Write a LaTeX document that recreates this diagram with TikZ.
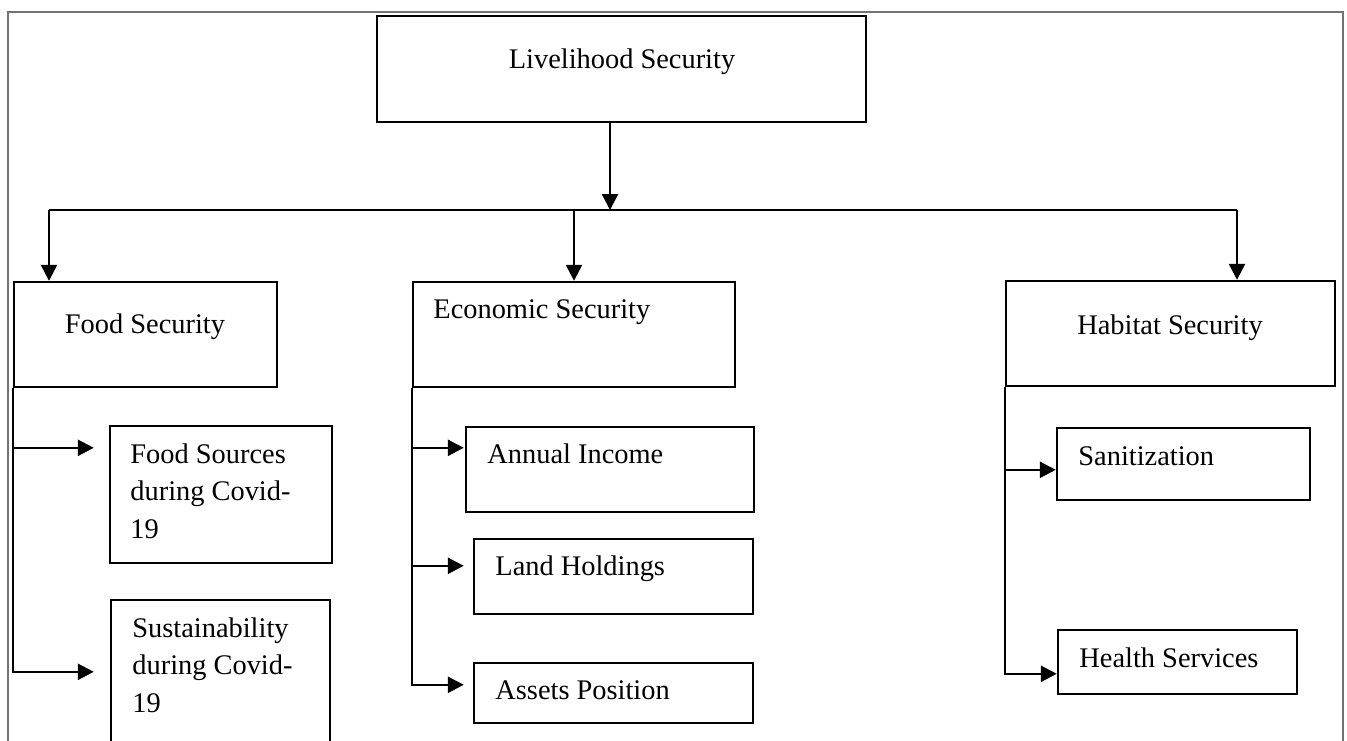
\documentclass[tikz,border=0pt]{standalone}
\usepackage{fontspec}
\setmainfont{Liberation Serif}
\usetikzlibrary{arrows.meta}

\tikzset{
  box/.style={draw, line width=1.2pt, rectangle, inner sep=0pt},
  lbl/.style={inner sep=0pt, align=left, font=\fontsize{14.2pt}{18.75pt}\selectfont},
  line/.style={line width=1.2pt},
  arr/.style={line width=1.2pt, -{Triangle[width=8pt,length=8pt]}},
  frame/.style={line width=1.1pt, draw=black!55}
}

\begin{document}
\begin{tikzpicture}[x=0.5pt, y=-0.5pt]
  \useasboundingbox (0,0) rectangle (1347,740);
  \clip (0,0) rectangle (1347,740);
  \draw [frame] (8,760) -- (8,12) -- (1343,12) -- (1343,760);

  \node [box, minimum width=244.5pt, minimum height=53pt] (live) at (621.5,69) {};
  \node [box, minimum width=131.5pt, minimum height=52.5pt] (fsec) at (145.5,334.5) {};
  \node [box, minimum width=161pt, minimum height=52.5pt] (esec) at (574,334.5) {};
  \node [box, minimum width=164.5pt, minimum height=52.5pt] (hsec) at (1170.5,333.5) {};
  \node [box, minimum width=111pt, minimum height=68.5pt] (fsrc) at (221,494.5) {};
  \node [box, minimum width=109.5pt, minimum height=90pt] (fsus) at (220.5,690) {};
  \node [box, minimum width=144pt, minimum height=42.5pt] (ainc) at (610,469.5) {};
  \node [box, minimum width=139.5pt, minimum height=37.5pt] (land) at (613.5,576.5) {};
  \node [box, minimum width=139.5pt, minimum height=30pt] (asst) at (613.5,693) {};
  \node [box, minimum width=126.5pt, minimum height=36pt] (sani) at (1183.5,464) {};
  \node [box, minimum width=119.5pt, minimum height=32pt] (hlth) at (1177.5,662) {};

  \node [lbl, anchor=base] (tlive) at (622,68) {Livelihood Security};
  \node [lbl, anchor=base] (tfsec) at (145,333) {Food Security};
  \node [lbl, anchor=base west] (tesec) at (433,318) {Economic Security};
  \node [lbl, anchor=base] (thsec) at (1170,334) {Habitat Security};
  \node [lbl, anchor=base west] (tfsrc) at (130,538) {Food Sources\\during Covid-\\19};
  \node [lbl, anchor=base west] (tfsus) at (132,712) {Sustainability\\during Covid-\\19};
  \node [lbl, anchor=base west] (tainc) at (487,463) {Annual Income};
  \node [lbl, anchor=base west] (tland) at (495,575) {Land Holdings};
  \node [lbl, anchor=base west] (tasst) at (495,699) {Assets Position};
  \node [lbl, anchor=base west] (tsani) at (1078,465) {Sanitization};
  \node [lbl, anchor=base west] (thlth) at (1079,667) {Health Services};

  \coordinate (barL) at (49,210);
  \coordinate (barR) at (1237,210);
  \draw [line] (barL) -- (barR);
  \draw [arr] ([xshift=-5.75pt]live.south) -- ([xshift=-5.75pt]live.south |- barL);
  \draw [arr] (barL) -- (barL |- fsec.north);
  \draw [arr] (esec.north |- barL) -- (esec.north);
  \draw [arr] (barR) -- (barR |- hsec.north);

  \draw [arr] (fsec.south west) |- ([shift={(-15,23)}]fsrc.north west);
  \draw [arr] (fsec.south west) |- ([shift={(-16,73)}]fsus.north west);
  \draw [arr] (esec.south west) |- ([shift={(-1,22)}]ainc.north west);
  \draw [arr] (esec.south west) |- ([shift={(-9,28)}]land.north west);
  \draw [arr] (esec.south west) |- ([shift={(-9,23)}]asst.north west);
  \draw [arr] (hsec.south west) |- ([shift={(0,43)}]sani.north west);
  \draw [arr] (hsec.south west) |- ([shift={(0,45)}]hlth.north west);
\end{tikzpicture}
\end{document}
